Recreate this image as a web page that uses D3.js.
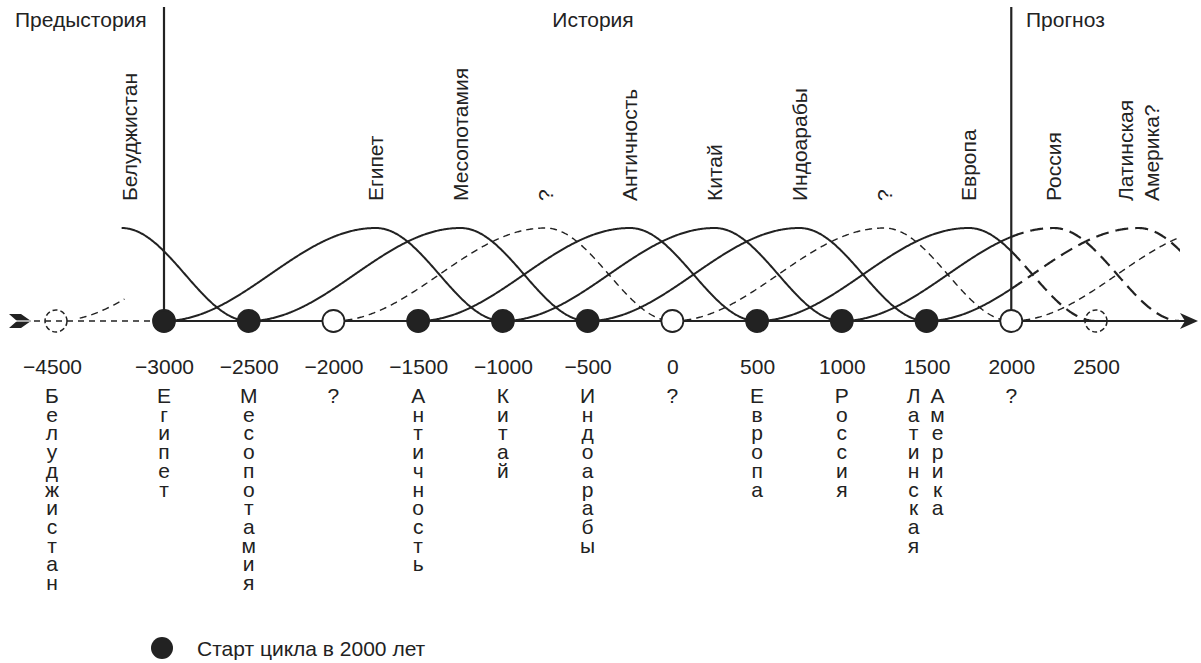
<!DOCTYPE html>
<html>
<head>
<meta charset="utf-8">
<script src="https://cdn.jsdelivr.net/npm/d3@7"></script>
<style>
  body { margin: 0; background: #fff; }
  text { font-family: "Liberation Sans", Arial, Helvetica, sans-serif; fill: #222; }
</style>
</head>
<body>
<div id="chart"></div>
<script>

// cycles: start year of each 2000-year cycle and its name ("?" = unknown)
var cycleStarts = [-4500, -3000, -2500, -2000, -1500, -1000, -500, 0, 500, 1000, 1500, 2000];
var cycleNames  = ["Белуджистан", "Египет", "Месопотамия", "?", "Античность", "Китай",
                   "Индоарабы", "?", "Европа", "Россия", "Латинская|Америка?", ""];
var bottomNames = ["Белуджистан", "Египет", "Месопотамия", "?", "Античность", "Китай",
                   "Индоарабы", "?", "Европа", "Россия", "Латинская|Америка", "?"];

// axis ticks and the kind of marker on each one
var tickYears  = [-4500, -3000, -2500, -2000, -1500, -1000, -500, 0, 500, 1000, 1500, 2000, 2500];
var pointKinds = ["dashed", "filled", "filled", "open", "filled", "filled", "filled", "open",
                  "filled", "filled", "filled", "open", "dashed"];

var eraLabels = ["Предыстория", "История", "Прогноз"];
var legendText = "Старт цикла в 2000 лет";

var riseYears = 1250, cycleLen = 2000, nowYear = 2000;

var width = 1201, height = 663;
var axisY = 321;
var ink = "#222";

var svg = d3.select("#chart").append("svg")
  .attr("width", width)
  .attr("height", height);

// main linear scale, and a polylinear one for the broken axis (prehistory compressed)
var x = d3.scaleLinear().domain([-3000, 2500]).range([164, 1096]);
var xAxisScale = d3.scaleLinear().domain([-4500, -3000, 2500]).range([56, 164, 1096]);
var slope = (x(2500) - x(-3000)) / 5500;
var xPre = function(yr) { return 56 + (yr + 4500) * slope; };
var y = d3.scaleLinear().domain([0, 1]).range([axisY, 228]);

function level(s, yr) {
  var t = yr - s;
  if (t <= 0 || t >= cycleLen) return 0;
  if (t <= riseYears) return (1 - Math.cos(Math.PI * t / riseYears)) / 2;
  return (1 + Math.cos(Math.PI * (t - riseYears) / (cycleLen - riseYears))) / 2;
}

var styles = {
  solid:    {w: 2,   dash: null},
  forecast: {w: 2.2, dash: "13,7"},
  unknown:  {w: 1.4, dash: "7,5"}
};

svg.append("clipPath").attr("id", "clip")
  .append("rect").attr("x", 0).attr("y", 0).attr("width", 1180).attr("height", height);

var line = d3.line().x(function(d){ return d[0]; }).y(function(d){ return d[1]; });

// build curve segments
var segs = [];
cycleStarts.forEach(function(s, i) {
  var unknown = bottomNames[i] === "?";
  if (s === -4500) {
    // dashed tail near the broken axis, then solid descent after the peak
    var tail = d3.range(-4360, -4088, 8).map(function(yr){ return [xPre(yr), y(level(s, yr))]; });
    segs.push({pts: tail, st: "unknown"});
    var fall = d3.range(s + riseYears, s + cycleLen + 1, 5).map(function(yr){ return [x(yr), y(level(s, yr))]; });
    segs.push({pts: fall, st: "solid"});
    return;
  }
  var end = s + cycleLen;
  if (unknown) {
    var pts = d3.range(s, end + 1, 5).map(function(yr){ return [x(yr), y(level(s, yr))]; });
    segs.push({pts: pts, st: "unknown"});
  } else {
    var a = d3.range(s, Math.min(end, nowYear) + 1, 5).map(function(yr){ return [x(yr), y(level(s, yr))]; });
    segs.push({pts: a, st: "solid"});
    if (end > nowYear) {
      var b = d3.range(nowYear, end + 1, 5).map(function(yr){ return [x(yr), y(level(s, yr))]; });
      segs.push({pts: b, st: "forecast"});
    }
  }
});

svg.append("g").attr("clip-path", "url(#clip)")
  .selectAll("path")
  .data(segs)
  .enter()
  .append("path")
  .attr("d", function(d){ return line(d.pts); })
  .attr("fill", "none")
  .attr("stroke", ink)
  .attr("stroke-width", function(d){ return styles[d.st].w; })
  .attr("stroke-dasharray", function(d){ return styles[d.st].dash; });

// era borders
[-3000, nowYear].forEach(function(yr) {
  svg.append("line")
    .attr("x1", x(yr)).attr("x2", x(yr))
    .attr("y1", 7).attr("y2", axisY)
    .attr("stroke", ink).attr("stroke-width", 2.2);
});

// axis: dashed (broken) part, solid part, arrow head, arrow tail
svg.append("line")
  .attr("x1", 34).attr("x2", 154).attr("y1", axisY).attr("y2", axisY)
  .attr("stroke", ink).attr("stroke-width", 1.6).attr("stroke-dasharray", "6,5");
svg.append("line")
  .attr("x1", x(-3000)).attr("x2", 1186).attr("y1", axisY).attr("y2", axisY)
  .attr("stroke", ink).attr("stroke-width", 2);
svg.append("path")
  .attr("d", "M1198," + axisY + " L1180," + (axisY - 8) + " L1185," + axisY + " L1180," + (axisY + 8) + " Z")
  .attr("fill", ink);
svg.append("path")
  .attr("d", "M9," + (axisY - 7) + " L21," + (axisY - 7) + " L31," + axisY + " L21," + (axisY + 7) +
             " L9," + (axisY + 7) + " L17," + axisY + " Z")
  .attr("fill", ink);
svg.append("line")
  .attr("x1", 12).attr("x2", 30).attr("y1", axisY).attr("y2", axisY)
  .attr("stroke", "#fff").attr("stroke-width", 1.2);

// tick labels via d3 axis
var axis = d3.axisBottom(xAxisScale)
  .tickValues(tickYears)
  .tickSize(0)
  .tickFormat(d3.format("d"));
var gAxis = svg.append("g")
  .attr("transform", "translate(0," + axisY + ")")
  .call(axis);
gAxis.select(".domain").remove();
gAxis.selectAll("text")
  .attr("y", 53).attr("dy", null)
  .style("font-size", "21px")
  .style("font-family", "'Liberation Sans', Arial, sans-serif")
  .attr("fill", ink);
gAxis.selectAll(".tick text").attr("dx", function(d){ return d === -4500 ? -4 : 0; });

// markers on the axis
svg.selectAll("circle.pt")
  .data(tickYears)
  .enter()
  .append("circle")
  .attr("class", "pt")
  .attr("cx", function(d){ return xAxisScale(d); })
  .attr("cy", axisY)
  .attr("r", 11)
  .attr("fill", function(d, i){ return pointKinds[i] === "filled" ? ink : "#fff"; })
  .attr("fill-opacity", function(d, i){ return pointKinds[i] === "dashed" ? 0 : 1; })
  .attr("stroke", ink)
  .attr("stroke-width", function(d, i){ return pointKinds[i] === "dashed" ? 1.5 : 1.8; })
  .attr("stroke-dasharray", function(d, i){ return pointKinds[i] === "dashed" ? "5,3" : null; });

// vertical stacked names under the ticks
var firstBase = 403, letterStep = 18.7;
bottomNames.forEach(function(name, i) {
  var cx = xAxisScale(cycleStarts[i]);
  var cols = name.split("|");
  cols.forEach(function(word, c) {
    var off = cols.length > 1 ? (c === 0 ? -13 : 11) : 0;
    var t = svg.append("text")
      .attr("text-anchor", "middle")
      .style("font-size", "21px");
    word.split("").forEach(function(ch, k) {
      t.append("tspan")
        .attr("x", cx + off - (i === 0 ? 4 : 0))
        .attr("y", firstBase + k * letterStep)
        .text(ch);
    });
  });
});

// rotated names above the curve peaks
cycleNames.forEach(function(name, i) {
  if (!name) return;
  var px = cycleStarts[i] === -4500 ? x(-3250) + 8 : x(cycleStarts[i] + riseYears);
  var lines = name.split("|");
  lines.forEach(function(txt, k) {
    var off = lines.length > 1 ? (k === 0 ? -13 : 13) : 0;
    svg.append("text")
      .attr("transform", "translate(" + (px + off) + ",201) rotate(-90)")
      .attr("dy", "0.35em")
      .style("font-size", "21px")
      .text(txt);
  });
});

// era headings
svg.append("text").attr("x", 15).attr("y", 27).style("font-size", "21px").text(eraLabels[0]);
svg.append("text").attr("x", 593).attr("y", 27).attr("text-anchor", "middle").style("font-size", "21px").text(eraLabels[1]);
svg.append("text").attr("x", 1026).attr("y", 27).style("font-size", "21px").text(eraLabels[2]);

// legend
svg.append("circle").attr("cx", 162).attr("cy", 648).attr("r", 11).attr("fill", ink);
svg.append("text").attr("x", 197).attr("y", 656).style("font-size", "21px").text(legendText);

</script>
</body>
</html>
